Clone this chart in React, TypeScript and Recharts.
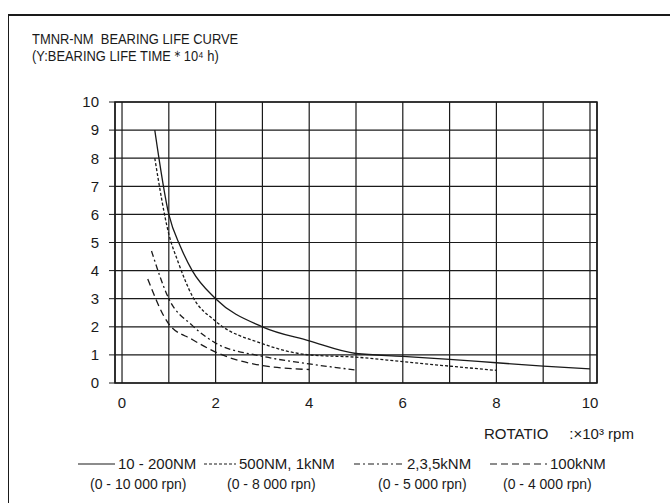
import { LineChart, Line, XAxis, YAxis, CartesianGrid, ReferenceArea } from "recharts";

// rpm (x1000) and bearing life (x10^4 h) per curve
const RPM_A = [0.7, 1, 1.25, 1.5, 2, 3, 4, 5, 6, 7, 8, 9, 10];
const LIFE_A = [9, 6, 4.85, 4, 3, 2, 1.5, 1.05, 0.95, 0.84, 0.72, 0.6, 0.5];
const RPM_B = [0.7, 1, 1.2, 1.5, 2, 3, 4, 5, 6, 7, 8];
const LIFE_B = [8, 5.3, 4.3, 3.1, 2.2, 1.4, 1.0, 0.92, 0.76, 0.6, 0.45];
const RPM_C = [0.63, 1, 1.5, 2, 3, 4, 5];
const LIFE_C = [4.7, 3.0, 2.05, 1.42, 0.95, 0.68, 0.46];
const RPM_D = [0.55, 1, 1.5, 2, 3, 4];
const LIFE_D = [3.7, 2.1, 1.55, 1.1, 0.62, 0.48];

const SERIES_NAMES = ["10 - 200NM", "500NM, 1kNM", "2,3,5kNM", "100kNM"];
const SERIES_RANGES = ["(0 - 10 000 rpn)", "(0 - 8 000 rpn)", "(0 - 5 000 rpn)", "(0 - 4 000 rpn)"];
const X_TICKS = [0, 1, 2, 3, 4, 5, 6, 7, 8, 9, 10];
const Y_TICKS = [0, 1, 2, 3, 4, 5, 6, 7, 8, 9, 10];

const toPoints = (xs: number[], ys: number[]) => xs.map((x, i) => ({ x, y: ys[i] }));

const curves = [
  { data: toPoints(RPM_A, LIFE_A), dash: undefined, sample: 37 },
  { data: toPoints(RPM_B, LIFE_B), dash: "3 2", sample: 32 },
  { data: toPoints(RPM_C, LIFE_C), dash: "6 3 2 3", sample: 50 },
  { data: toPoints(RPM_D, LIFE_D), dash: "7 4", sample: 57 },
];

const FONT = '"Liberation Sans", Arial, sans-serif';
const INK = "#1a1a1a";

const textStyle = (left: number, top: number, size = 15, squeeze = 1): React.CSSProperties => ({
  position: "absolute",
  left,
  top,
  fontFamily: FONT,
  fontSize: size,
  lineHeight: `${size}px`,
  color: INK,
  whiteSpace: "pre",
  transform: squeeze !== 1 ? `scaleX(${squeeze})` : undefined,
  transformOrigin: "left top",
});

export default function App() {
  const legendX = [78, 204, 354, 490];
  const rangeX = [90, 227, 378, 503];
  return (
    <div style={{ position: "absolute", left: 0, top: 0, width: 670, height: 503, background: "#fff", overflow: "hidden" }}>
      <div style={{ position: "absolute", left: 8, top: 14, width: 680, height: 500, borderTop: `2px solid ${INK}`, borderLeft: `1px solid ${INK}` }} />
      <div style={textStyle(32, 31, 15, 0.86)}>TMNR-NM  BEARING LIFE CURVE</div>
      <div style={textStyle(32, 48, 15, 0.86)}>(Y:BEARING LIFE TIME＊10⁴ h)</div>

      <div style={{ position: "absolute", left: 0, top: 0 }}>
        <LineChart width={670} height={503} margin={{ top: 102, right: 73, bottom: 90, left: 0 }}>
          <CartesianGrid stroke={INK} strokeWidth={1.2} />
          <XAxis
            type="number"
            dataKey="x"
            domain={[-0.15, 10.15]}
            ticks={X_TICKS}
            tickFormatter={(v: number) => (v % 2 === 0 ? String(v) : "")}
            axisLine={false}
            tickLine={false}
            tickSize={0}
            tickMargin={14}
            height={30}
            tick={{ fill: INK, fontSize: 15, fontFamily: FONT }}
            allowDataOverflow
          />
          <YAxis
            type="number"
            domain={[0, 10]}
            ticks={Y_TICKS}
            axisLine={false}
            tickLine={{ stroke: INK }}
            tickSize={6}
            tickMargin={10}
            width={115}
            tick={{ fill: INK, fontSize: 15, fontFamily: FONT }}
          />
          <ReferenceArea x1={-0.15} x2={10.15} y1={0} y2={10} fill="none" stroke={INK} strokeWidth={1.5} />
          {curves.map((c, i) => (
            <Line
              key={i}
              data={c.data}
              dataKey="y"
              type="monotone"
              stroke={INK}
              strokeWidth={1.3}
              strokeDasharray={c.dash}
              dot={false}
              isAnimationActive={false}
            />
          ))}
        </LineChart>
      </div>

      <div style={textStyle(484, 426)}>{"ROTATIO     :×10³ rpm"}</div>

      {SERIES_NAMES.map((name, i) => (
        <div key={name} style={{ ...textStyle(legendX[i], 456), display: "flex", alignItems: "center" }}>
          <svg width={curves[i].sample} height={6} style={{ marginRight: 3 }}>
            <line x1={0} y1={3} x2={curves[i].sample} y2={3} stroke={INK} strokeWidth={1.2} strokeDasharray={curves[i].dash} />
          </svg>
          <span>{name}</span>
        </div>
      ))}
      {SERIES_RANGES.map((r, i) => (
        <div key={r} style={textStyle(rangeX[i], 477, 14)}>{r}</div>
      ))}
    </div>
  );
}
